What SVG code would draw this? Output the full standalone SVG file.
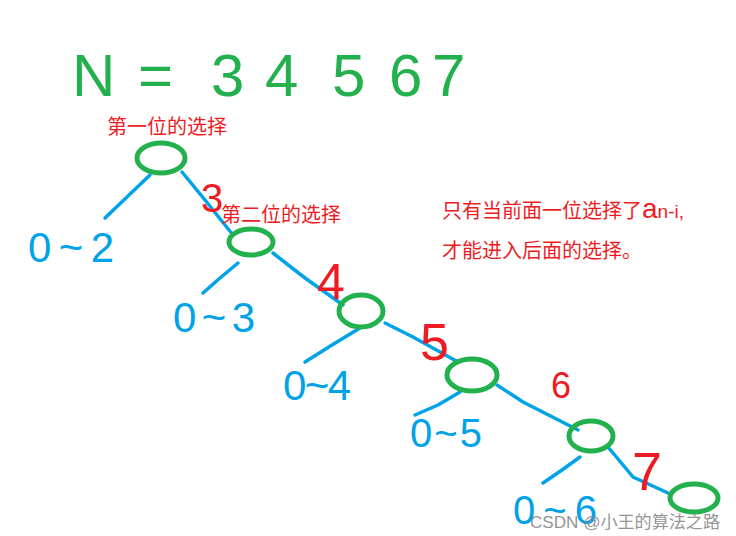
<svg xmlns="http://www.w3.org/2000/svg" width="736" height="536" viewBox="0 0 736 536">
<style>
.node{fill:none;stroke:#22b14c;stroke-width:5}
.edge{fill:none;stroke:#00a2e8;stroke-width:3.5;stroke-linecap:round;stroke-linejoin:round}
.hand{font-family:"Liberation Sans","DejaVu Sans",sans-serif}
.blue{fill:#00a2e8}
.red{fill:#ed1c24}
.green{fill:#22b14c}
.cn{font-family:"Noto Sans CJK SC","Liberation Sans",sans-serif;fill:#ed1c24;font-size:20px}
.wm{font-family:"Liberation Sans","Noto Sans CJK SC",sans-serif;fill:#8a8a8a;font-size:17px;opacity:0.9}
</style>
<rect width="736" height="536" fill="#ffffff"/>
<g id="title">
<text class="hand green" font-size="60" y="96"><tspan x="72">N</tspan><tspan x="138">=</tspan><tspan x="211">3</tspan><tspan x="265">4</tspan><tspan x="332">5</tspan><tspan x="389">6</tspan><tspan x="432">7</tspan></text>
</g>
<g id="connectors">
<polyline class="edge" points="150,175 128,196 105,218"/>
<polyline class="edge" points="182,172 205,200 233,235"/>
<polyline class="edge" points="238,263 220,278 203,293"/>
<polyline class="edge" points="273,253 305,278 343,305"/>
<polyline class="edge" points="360,328 332,345 305,362"/>
<polyline class="edge" points="385,323 413,337 458,362"/>
<polyline class="edge" points="460,392 438,405 415,415"/>
<polyline class="edge" points="497,385 523,402 578,430"/>
<polyline class="edge" points="580,457 562,470 543,483"/>
<polyline class="edge" points="608,447 633,477 668,493"/>
</g>
<g id="node1">
<ellipse class="node" cx="161" cy="158" rx="24" ry="15"/>
<text class="cn" x="107" y="134">第一位的选择</text>
</g>
<g id="node2">
<ellipse class="node" cx="251" cy="242" rx="22" ry="13"/>
<text class="cn" x="221" y="222">第二位的选择</text>
</g>
<g id="node3">
<ellipse class="node" cx="361" cy="311" rx="22" ry="16"/>
</g>
<g id="node4">
<ellipse class="node" cx="472" cy="375" rx="25" ry="16"/>
</g>
<g id="node5">
<ellipse class="node" cx="591" cy="436" rx="22" ry="15"/>
</g>
<g id="node6">
<ellipse class="node" cx="694" cy="498" rx="24" ry="14"/>
</g>
<g id="ranges">
<text class="hand blue" font-size="42" x="28" y="262" textLength="86" lengthAdjust="spacing">0~2</text>
<text class="hand blue" font-size="42" x="173" y="332" textLength="82" lengthAdjust="spacing">0~3</text>
<text class="hand blue" font-size="42" x="283" y="400" textLength="68" lengthAdjust="spacing">0~4</text>
<text class="hand blue" font-size="40" x="410" y="447" textLength="72" lengthAdjust="spacing">0~5</text>
<text class="hand blue" font-size="40" x="513" y="524" textLength="84" lengthAdjust="spacing">0~6</text>
</g>
<g id="edge-labels">
<text class="hand red" font-size="40" x="201" y="212">3</text>
<text class="hand red" font-size="50" x="317" y="299">4</text>
<text class="hand red" font-size="52" x="420" y="360">5</text>
<text class="hand red" font-size="36" x="551" y="398">6</text>
<text class="hand red" font-size="54" x="632" y="490">7</text>
</g>
<g id="note">
<text class="cn" x="442" y="218">只有当前面一位选择了<tspan class="hand" font-size="28">a</tspan><tspan class="hand" font-size="19">n-i,</tspan></text>
<text class="cn" x="442" y="258">才能进入后面的选择。</text>
</g>
<text class="wm" x="530" y="528" textLength="190" lengthAdjust="spacingAndGlyphs">CSDN @小王的算法之路</text>
</svg>
